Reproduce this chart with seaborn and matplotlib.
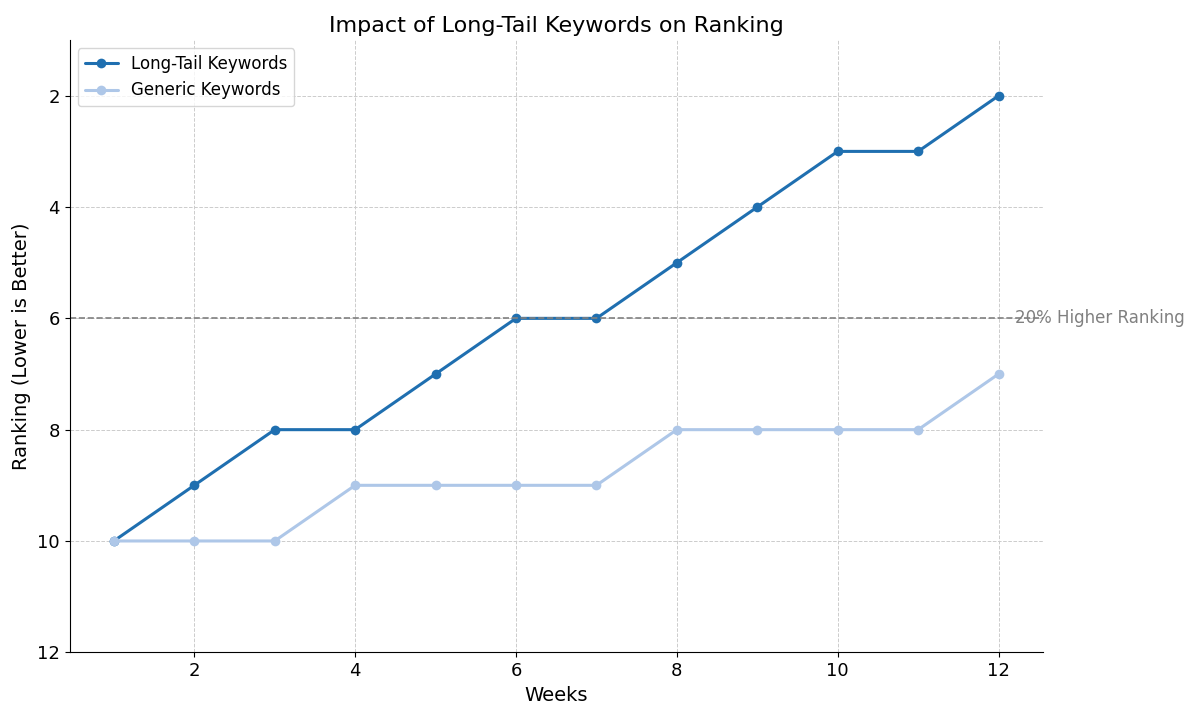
import pandas as pd
import seaborn as sns
import matplotlib.pyplot as plt

# Datos
weeks = list(range(1, 13))
long_tail = [10, 9, 8, 8, 7, 6, 6, 5, 4, 3, 3, 2]
generic = [10, 10, 10, 9, 9, 9, 9, 8, 8, 8, 8, 7]
series_names = ["Long-Tail Keywords", "Generic Keywords"]
colors = ["#1f6fb0", "#aec7e8"]
threshold = 6

df = pd.DataFrame({
    "Weeks": weeks * 2,
    "Ranking": long_tail + generic,
    "Serie": [series_names[0]] * 12 + [series_names[1]] * 12,
})

sns.set_style("ticks", {"axes.edgecolor": "black", "text.color": "black",
                        "axes.labelcolor": "black", "xtick.color": "black",
                        "ytick.color": "black"})
plt.rcParams['font.family'] = ['DejaVu Sans']

fig, ax = plt.subplots(figsize=(12, 7.16), dpi=100)
fig.subplots_adjust(left=0.058, right=0.869, top=0.944, bottom=0.089)

sns.lineplot(data=df, x="Weeks", y="Ranking", hue="Serie", palette=colors,
             marker="o", markersize=7, markeredgewidth=0, linewidth=2.2, ax=ax)

ax.axhline(threshold, color="gray", linestyle="--", linewidth=1.2)
ax.text(12.2, threshold, "20% Higher Ranking", color="gray", fontsize=12, va="center")

ax.set_ylim(12, 1)
ax.set_yticks([2, 4, 6, 8, 10, 12])
ax.set_xticks([2, 4, 6, 8, 10, 12])
ax.grid(True, linestyle="--", color="#cccccc", linewidth=0.7)
ax.set_axisbelow(True)
sns.despine(ax=ax)
ax.tick_params(labelsize=13)

ax.set_title("Impact of Long-Tail Keywords on Ranking", fontsize=16)
ax.set_xlabel("Weeks", fontsize=14)
ax.set_ylabel("Ranking (Lower is Better)", fontsize=14)
ax.legend(title=None, loc="upper left", fontsize=12)

plt.savefig("out.png", dpi=100)
